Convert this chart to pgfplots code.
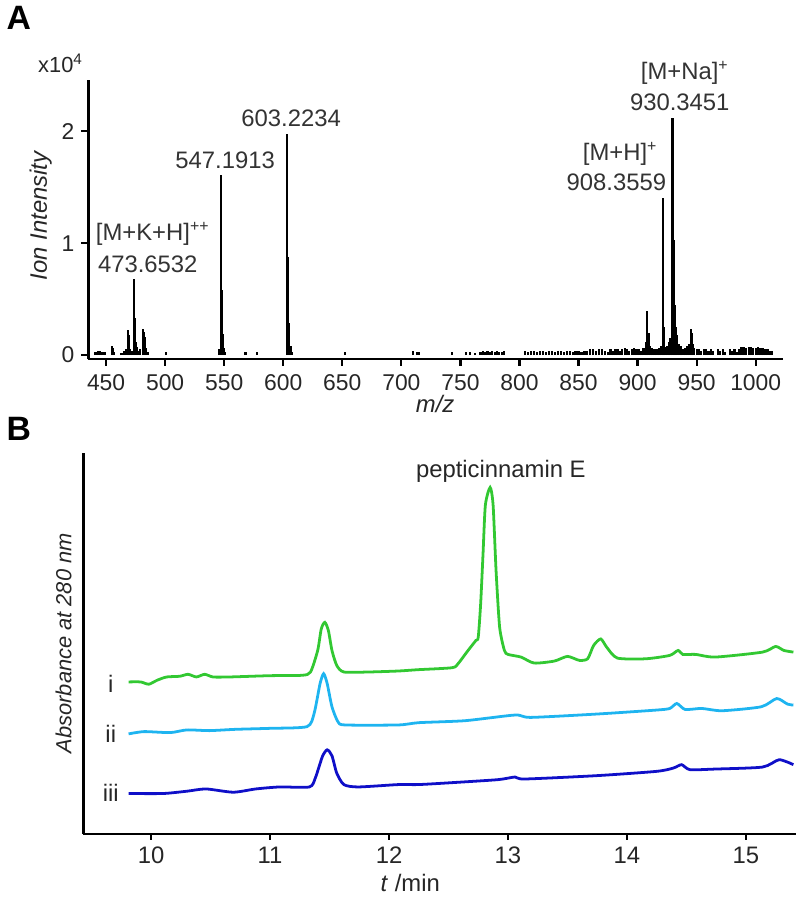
\documentclass[border=0pt]{standalone}
\usepackage{pgfplots}
\pgfplotsset{compat=1.18}
\usepackage{fontspec}
\setmainfont{Liberation Sans}
\definecolor{trI}{RGB}{50,200,50}
\definecolor{trII}{RGB}{30,180,240}
\definecolor{trIII}{RGB}{15,15,200}
\begin{document}
\begin{tikzpicture}
\path (0,0) rectangle (400pt,-449pt);
% ---------------- Panel A ----------------
\begin{axis}[
  at={(44pt,-180pt)}, anchor=south west,
  scale only axis, width=349.5pt, height=140.5pt,
  xmin=435, xmax=1023, ymin=-0.036, ymax=2.46,
  axis lines=left, axis line style={-, line width=1.3pt},
  tick align=outside, major tick length=3.5pt,
  tick style={line width=1.1pt, black},
  xtick={450,500,...,1000}, ytick={0,1,2},
  /pgf/number format/assume math mode=true,
  /pgf/number format/1000 sep={},
  tick label style={font=\fontsize{11.5}{13}\selectfont, color=black!85},
  xticklabel style={yshift=-1pt},
  clip=false,
]
\addplot[ycomb, black, line width=1.1pt] coordinates {
(441,0.03)(443,0.04)(445,0.04)(447,0.03)(449,0.03)
(455,0.08)(456,0.06)(457,0.03)
(463,0.02)(465,0.04)(466,0.04)(467,0.05)
(468.5,0.22)(469.5,0.18)(470.5,0.05)
(472,0.04)(473.65,0.68)(474.5,0.33)(475.3,0.12)(476.5,0.07)(477.5,0.04)
(479,0.05)(481,0.23)(482,0.21)(483,0.16)(484,0.06)(485,0.03)
(501,0.03)
(546,0.05)(547.5,1.61)(548.3,0.58)(549.2,0.19)(550,0.06)(551,0.03)
(568,0.03)(578,0.03)
(603.2,1.98)(604.2,0.88)(605.2,0.29)(606.2,0.08)(607,0.03)
(652,0.03)
(710,0.04)(713,0.03)(715,0.03)
(743,0.03)
(755,0.03)(758,0.03)(762,0.02)
(767,0.03)(769,0.04)(771,0.03)(773,0.04)(775,0.03)(777,0.04)(779,0.03)(781,0.04)(783,0.03)(785,0.03)(787,0.04)
(805,0.04)(807.5,0.03)(810,0.04)(812.5,0.04)(815,0.03)(817.5,0.04)(820,0.04)(822.5,0.03)(825,0.04)(827.5,0.04)
(830,0.03)(832.5,0.04)(835,0.04)(837.5,0.03)(840,0.04)(842.5,0.04)(845,0.03)(847.5,0.04)(850,0.04)(852.5,0.03)
(855,0.04)(857.5,0.04)(860,0.05)(862.5,0.05)(865,0.04)(867.5,0.05)(870,0.05)(872.5,0.04)(875,0.03)(877,0.05)
(879,0.04)(881,0.05)(883,0.05)(885,0.04)(887,0.05)(889,0.06)(891,0.05)(893,0.04)(895,0.05)(897,0.06)(899,0.05)(901,0.05)
(903,0.04)(905,0.06)(907,0.12)(908.3,0.39)(909.3,0.2)(910.3,0.08)(912,0.06)(914,0.05)(916,0.05)(918,0.06)(920,0.08)
(921.4,1.40)(922.4,0.25)(923.5,0.07)(925,0.08)(926.5,0.12)(927.5,0.15)
(929.5,2.12)(930.5,1.03)(931.5,0.45)(932.5,0.25)(933.5,0.18)(935,0.1)(936.5,0.08)(938,0.05)
(940,0.06)(942,0.08)(943.5,0.1)(945,0.23)(946,0.2)(947,0.1)(948,0.06)
(950,0.05)(952,0.05)(954,0.04)(956,0.05)(958,0.05)(960,0.04)(962,0.05)(964,0.04)(968,0.05)(970,0.04)
(972,0.05)(974,0.03)(978,0.05)(980,0.04)(982,0.05)(984,0.03)(986,0.05)(988,0.07)(990,0.07)(992,0.06)
(994,0.07)(996,0.07)(998,0.06)(1000,0.06)(1002,0.07)(1004,0.06)(1006,0.06)(1008,0.05)(1010,0.05)(1012,0.04)(1014,0.04)
};
\begin{scope}[every node/.style={font=\fontsize{12}{14}\selectfont, text=black!80, inner sep=0pt}]
\node at (axis cs:489.5,1.08) {[M+K+H]\textsuperscript{++}};
\node at (axis cs:485.3,0.81) {473.6532};
\node at (axis cs:550.8,1.74) {547.1913};
\node at (axis cs:606.7,2.12) {603.2234};
\node at (axis cs:885.3,1.80) {[M+H]\textsuperscript{+}};
\node at (axis cs:882,1.54) {908.3559};
\node at (axis cs:940,2.52) {[M+Na]\textsuperscript{+}};
\node at (axis cs:935.7,2.26) {930.3451};
\end{scope}
\end{axis}
\node[font=\bfseries\fontsize{17}{19}\selectfont] at (9pt,-8.5pt) {A};
\node[font=\fontsize{11}{13}\selectfont, text=black!85] at (30pt,-31pt) {x10\textsuperscript{4}};
\node[font=\itshape\fontsize{12}{14}\selectfont, text=black!85, rotate=90] at (20pt,-108pt) {Ion Intensity};
\node[font=\itshape\fontsize{12}{14}\selectfont, text=black!85] at (218.5pt,-202.5pt) {m/z};
% ---------------- Panel B ----------------
\begin{axis}[
  at={(41.5pt,-419pt)}, anchor=south west,
  scale only axis, width=358.5pt, height=191.5pt,
  xmin=9.43, xmax=15.42, ymin=0, ymax=383,
  axis lines=left, axis line style={-, line width=1.3pt},
  tick align=outside, major tick length=3pt,
  tick style={line width=1.1pt, black},
  xtick={10,11,...,15}, ytick=\empty,
  /pgf/number format/assume math mode=true,
  tick label style={font=\fontsize{12}{13}\selectfont, color=black!85},
  clip=false,
]
\addplot[trI, line width=1.4pt, smooth, tension=0.4] coordinates {
(9.81,153)(9.91,153)(9.98,150.7)(10.05,154.7)(10.13,158)(10.24,158.7)(10.31,160.7)(10.38,158)(10.45,160.7)(10.52,158)
(10.66,158)(11.0,159.3)(11.27,159.7)(11.34,163)(11.40,184.7)(11.43,206.3)(11.46,213)(11.49,204.7)(11.52,184.7)(11.56,169.7)
(11.62,163)(11.83,163)(12.08,164)(12.24,165.3)(12.53,167.3)(12.58,171.3)(12.66,184)(12.73,194.7)(12.75,198)(12.77,231)
(12.79,281)(12.81,331)(12.85,348.7)(12.875,331)(12.90,264.7)(12.93,208)(12.97,184.7)(13.0,180.7)(13.11,178)(13.22,172)
(13.39,174)(13.5,178.7)(13.60,174.7)(13.67,176.3)(13.72,189.7)(13.78,196.3)(13.83,188)(13.92,177)(14.16,176.3)(14.36,179.7)
(14.43,184.7)(14.47,180.7)(14.58,180.7)(14.74,178)(15.14,183)(15.25,188.7)(15.32,184.7)(15.40,183)
};
\addplot[trII, line width=1.4pt, smooth, tension=0.4] coordinates {
(9.81,100.7)(9.94,103)(10.16,102)(10.30,104.7)(10.49,104)(10.71,105.3)(11.0,106.3)(11.31,108)(11.37,121.3)(11.42,151.3)
(11.45,161.3)(11.48,151.3)(11.52,128)(11.57,113)(11.63,109.7)(12.08,109.7)(12.25,112)(12.64,114)(13.06,119.7)(13.19,117.3)
(13.75,120.7)(14.25,124.7)(14.36,126.3)(14.42,131.3)(14.49,125.3)(14.63,126.3)(14.80,124)(15.13,128)(15.26,136.3)(15.35,130.7)(15.40,129.7)
};
\addplot[trIII, line width=1.4pt, smooth, tension=0.4] coordinates {
(9.81,40.7)(10.10,40.7)(10.30,43)(10.46,45.3)(10.69,42)(10.88,45.3)(11.08,47.3)(11.33,47.3)(11.38,56.3)(11.44,78)
(11.48,84.7)(11.52,78.7)(11.56,61.3)(11.62,49.7)(11.74,47.3)(12.08,49.7)(12.25,49.7)(12.58,52)(12.92,54.7)(13.06,57.3)
(13.14,55.3)(13.75,58.7)(14.25,63)(14.39,66.3)(14.46,69.7)(14.53,64.7)(14.74,65.3)(15.14,67.3)(15.28,74.7)(15.40,69.7)
};
\begin{scope}[every node/.style={font=\fontsize{12}{14}\selectfont, text=black!85, inner sep=0pt}]
\node at (axis cs:9.66,151) {i};
\node at (axis cs:9.66,101) {ii};
\node at (axis cs:9.66,41) {iii};
\node at (axis cs:12.94,365) {pepticinnamin E};
\end{scope}
\end{axis}
\node[font=\bfseries\fontsize{17}{19}\selectfont] at (9pt,-215pt) {B};
\node[font=\itshape\fontsize{11}{13}\selectfont, text=black!85, rotate=90] at (31.5pt,-323pt) {Absorbance at 280 nm};
\node[font=\fontsize{12}{14}\selectfont, text=black!85] at (206pt,-443.5pt) {\textit{t} /min};
\end{tikzpicture}
\end{document}
